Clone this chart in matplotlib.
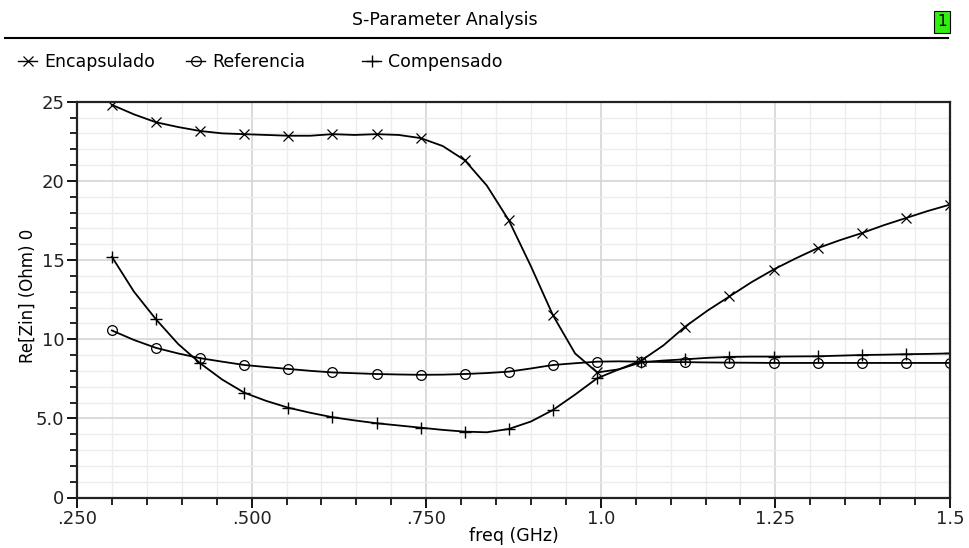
import matplotlib.pyplot as plt
from matplotlib.lines import Line2D
from matplotlib.ticker import MultipleLocator, FixedLocator
import numpy as np

# frequency points (GHz); markers every other point
freq = np.linspace(0.3, 1.5, 39)

encapsulado = [24.8, 24.2, 23.7, 23.4, 23.15, 23.0, 22.95, 22.9, 22.85, 22.85,
               22.95, 22.9, 22.95, 22.9, 22.7, 22.2, 21.3, 19.7, 17.5, 14.6,
               11.5, 9.1, 7.9, 8.1, 8.65, 9.6, 10.8, 11.8, 12.7, 13.6,
               14.4, 15.1, 15.75, 16.25, 16.7, 17.2, 17.65, 18.1, 18.5]

referencia = [10.55, 9.95, 9.45, 9.1, 8.8, 8.58, 8.37, 8.24, 8.12, 8.0,
              7.9, 7.85, 7.8, 7.77, 7.75, 7.76, 7.8, 7.86, 7.95, 8.15,
              8.37, 8.48, 8.58, 8.6, 8.58, 8.56, 8.55, 8.53, 8.52, 8.51,
              8.5, 8.5, 8.5, 8.5, 8.5, 8.5, 8.5, 8.5, 8.5]

compensado = [15.2, 13.0, 11.25, 9.7, 8.48, 7.45, 6.62, 6.1, 5.67, 5.35,
              5.07, 4.87, 4.69, 4.55, 4.41, 4.27, 4.16, 4.12, 4.33, 4.8,
              5.53, 6.5, 7.53, 8.1, 8.54, 8.65, 8.73, 8.82, 8.88, 8.9,
              8.9, 8.91, 8.92, 8.96, 9.0, 9.02, 9.05, 9.07, 9.1]

series_names = ['Encapsulado', 'Referencia', 'Compensado']

xticks = [0.25, 0.5, 0.75, 1.0, 1.25, 1.5]
xtick_labels = ['.250', '.500', '.750', '1.0', '1.25', '1.5']
yticks = [0, 5, 10, 15, 20, 25]
ytick_labels = ['0', '5.0', '10', '15', '20', '25']

plt.rcParams['font.family'] = 'DejaVu Sans'

fig = plt.figure(figsize=(9.69, 5.48), dpi=100)
ax = fig.add_axes([77 / 969, 1 - 497.5 / 548, 873 / 969, 395.8 / 548])

styles = [
    dict(marker='x', ms=7.5, mew=0.9),
    dict(marker='o', ms=7, mew=0.9, mfc='none'),
    dict(marker='+', ms=9, mew=1.0),
]

for vals, st in zip([encapsulado, referencia, compensado], styles):
    ax.plot(freq, vals, color='black', lw=1.3, markevery=2, **st)

ax.set_xlim(0.25, 1.5)
ax.set_ylim(0, 25)
ax.xaxis.set_major_locator(FixedLocator(xticks))
ax.set_xticklabels(xtick_labels)
ax.xaxis.set_minor_locator(MultipleLocator(0.05))
ax.yaxis.set_major_locator(FixedLocator(yticks))
ax.set_yticklabels(ytick_labels)
ax.yaxis.set_minor_locator(MultipleLocator(1))

ax.grid(which='major', color='#d4d4d4', lw=1.2)
ax.grid(which='minor', color='#ececec', lw=1.0)
ax.set_axisbelow(True)

for s in ax.spines.values():
    s.set_linewidth(1.6)
    s.set_color('#222222')
ax.tick_params(which='major', direction='out', length=7, width=1.3, labelsize=13,
               pad=2, labelcolor='#222222')
ax.tick_params(which='minor', direction='out', length=5, width=1.2)

ax.set_xlabel('freq (GHz)', fontsize=12.5, labelpad=-1)
ax.set_ylabel('Re[Zin] (Ohm) 0', fontsize=12)
ax.yaxis.set_label_coords(-40 / 873, 0.51)

# header
fig.text(445 / 969, 1 - 20 / 548, 'S-Parameter Analysis', ha='center', va='center', fontsize=12.5)
fig.add_artist(Line2D([5 / 969, 948 / 969], [1 - 38 / 548] * 2, color='black', lw=1.5))
fig.text(942 / 969, 1 - 22 / 548, '1', ha='center', va='center', fontsize=11,
         bbox=dict(boxstyle='square,pad=0.2', fc='#33ee11', ec='black', lw=0.8))

# legend: three entries placed individually
legend_x = [18, 186, 362]
for name, st, lx in zip(series_names, styles, legend_x):
    h = Line2D([], [], color='black', lw=1.0, **st)
    fig.legend([h], [name], frameon=False, loc='center left',
               bbox_to_anchor=(lx / 969, 1 - 62 / 548), fontsize=12.5,
               handlelength=1.1, handletextpad=0.4, borderpad=0, borderaxespad=0)

fig.savefig('out.png', dpi=100)
